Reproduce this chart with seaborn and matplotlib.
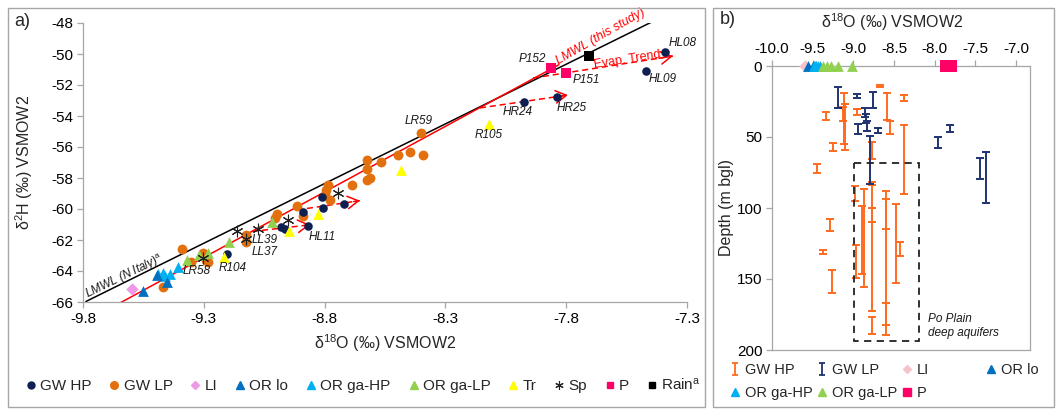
import numpy as np
import pandas as pd
import matplotlib
matplotlib.use("Agg")
import matplotlib.pyplot as plt
import seaborn as sns
from matplotlib.lines import Line2D
from matplotlib.patches import Rectangle
from matplotlib.path import Path

# ---------------- data: panel a (d18O, d2H) ----------------
gw_hp_x = [-7.391, -7.470, -7.973, -7.838, -8.812, -8.805, -8.718, -8.888, -8.980, -8.964, -8.870, -9.205]
gw_hp_y = [-49.89, -51.08, -53.12, -52.75, -59.25, -59.96, -59.70, -60.17, -61.18, -61.31, -61.12, -62.90]
gw_lp_x = [-8.401, -8.626, -8.567, -8.497, -8.446, -8.394, -8.623, -8.626, -8.612, -8.685, -8.785, -8.794,
           -8.798, -8.778, -8.916, -8.888, -8.995, -9.005, -9.125, -9.125, -9.302, -9.281, -9.290, -9.354,
           -9.392, -9.467]
gw_lp_y = [-55.12, -56.84, -56.95, -56.52, -56.30, -56.52, -57.44, -58.13, -58.02, -58.45, -58.42, -58.77,
           -59.10, -59.40, -59.83, -60.45, -60.34, -60.60, -61.68, -62.11, -62.82, -63.40, -63.30, -63.44,
           -62.58, -65.05]
li_x = [-9.599]
li_y = [-65.16]
or_lo_x = [-9.553, -9.454, -9.495]
or_lo_y = [-65.29, -64.69, -64.25]
or_gahp_x = [-9.488, -9.467, -9.440, -9.406, -9.460]
or_gahp_y = [-64.21, -64.15, -64.19, -63.76, -64.35]
or_galp_x = [-9.019, -9.194, -9.281, -9.319, -9.371]
or_galp_y = [-60.87, -62.11, -62.82, -62.97, -63.29]
tr_x = [-8.120, -8.485, -8.829, -8.946, -9.216]
tr_y = [-54.50, -57.48, -60.32, -61.40, -63.12]
sp_x = [-8.746, -8.950, -9.074, -9.161, -9.125, -9.305]
sp_y = [-58.99, -60.74, -61.28, -61.40, -61.96, -63.18]
p_x = [-7.863, -7.800]
p_y = [-50.88, -51.25]
rain_x = [-7.706]
rain_y = [-50.11]

# sample labels
lab_names = ["HL08", "HL09", "P152", "P151", "HR24", "HR25", "R105", "LR59", "HL11", "LL39", "LL37", "R104", "LR58"]
lab_x = [-7.317, -7.399, -7.942, -7.718, -8.000, -7.776, -8.120, -8.409, -8.811, -9.047, -9.047, -9.179, -9.328]
lab_y = [-49.29, -51.61, -50.32, -51.68, -53.74, -53.48, -55.23, -54.32, -61.81, -62.02, -62.80, -63.81, -64.00]

# meteoric water lines (slope, intercept, x-range)
lmwl_italy = (7.7, 9.4, -9.788, -7.444)
lmwl_study = (8.46, 15.55, -9.644, -7.83)

# evaporation trend arrows (start x, start y, end x, end y)
evap_arrows = [(-7.937, -51.55, -7.358, -50.13),
               (-8.157, -53.48, -7.793, -52.65),
               (-8.914, -60.06, -8.654, -59.46),
               (-9.100, -61.45, -8.860, -61.02)]

# ---------------- data: panel b (d18O vs screen depth) ----------------
b_hp_x = [-9.337, -9.112, -9.105, -9.125, -9.255, -9.450, -8.960, -8.675, -8.593, -8.552, -8.380, -8.377,
          -8.777, -8.770, -8.982, -8.969, -8.871, -8.899, -8.768, -8.768, -8.768, -8.605, -8.605, -8.605,
          -8.478, -8.430, -9.288, -9.377, -9.266]
b_hp_top = [32.6, 19.0, 27.0, 29.0, 54.4, 69.2, 30.3, 13.4, 19.2, 38.7, 20.4, 41.5,
            53.7, 81.5, 84.5, 126.0, 86.8, 98.6, 84.0, 100.2, 177.0, 88.0, 93.9, 167.0,
            97.2, 124.0, 108.0, 129.6, 144.0]
b_hp_bot = [38.0, 55.0, 59.0, 39.0, 59.6, 75.6, 34.5, 14.6, 38.0, 48.1, 24.4, 90.4,
            65.5, 84.0, 94.9, 149.5, 155.8, 146.5, 172.5, 109.6, 188.7, 189.4, 115.0, 182.4,
            153.0, 133.6, 116.0, 132.4, 160.0]
b_lp_x = [-9.186, -8.961, -8.765, -8.859, -8.847, -8.940, -8.830, -8.700, -8.790, -7.960, -7.816, -7.448, -7.366]
b_lp_top = [14.6, 20.0, 18.5, 29.8, 34.0, 41.0, 38.7, 43.4, 49.3, 49.8, 41.5, 64.6, 60.8]
b_lp_bot = [29.4, 22.7, 29.8, 35.7, 40.4, 48.0, 45.8, 47.4, 83.3, 57.5, 46.7, 79.6, 96.7]
deep_box = (-8.99, -8.196, 68.0, 193.7)

# ---------------- style ----------------
sns.set_theme(style="white")
plt.rcParams["font.family"] = ["Liberation Sans", "DejaVu Sans"]
plt.rcParams["mathtext.fontset"] = "custom"
plt.rcParams["mathtext.rm"] = "Liberation Sans"
plt.rcParams["mathtext.it"] = "Liberation Sans:italic"
plt.rcParams["mathtext.bf"] = "Liberation Sans:bold"
plt.rcParams["axes.unicode_minus"] = False

C_NAVY = "#0E1F52"
C_ORANGE = "#E2700F"
C_LI = "#EE99E6"
C_LI_B = "#F6C3CC"
C_ORLO = "#0070C0"
C_ORGAHP = "#00B0F0"
C_ORGALP = "#92D050"
C_TR = "#FFFF00"
C_P = "#FF0066"
C_RAIN = "#000000"
C_B_HP = "#FF6A1F"
C_B_LP = "#1F3370"
GREY = "#A6A6A6"

W, H = 1057, 409
fig = plt.figure(figsize=(W / 100, H / 100), dpi=100)
fig.patch.set_facecolor("white")

# panel borders
fig.patches.append(Rectangle((8 / W, 1 - 407 / H), (705 - 8) / W, (407 - 8) / H, transform=fig.transFigure,
                             fill=False, edgecolor=GREY, lw=1.0))
fig.patches.append(Rectangle((713 / W, 1 - 407 / H), (1054 - 713) / W, (407 - 8) / H, transform=fig.transFigure,
                             fill=False, edgecolor=GREY, lw=1.0))

# ---------------- panel a ----------------
ax = fig.add_axes([83 / W, 1 - 302 / H, 604 / W, 279 / H])
ax.set_xlim(-9.8, -7.3)
ax.set_ylim(-66, -48)

for (m, b, x0, x1), col in [(lmwl_italy, "black"), (lmwl_study, "red")]:
    xs = np.array([x0, x1])
    ax.plot(xs, m * xs + b, color=col, lw=1.1, zorder=2)

for (x0, y0, x1, y1) in evap_arrows:
    ax.plot([x0, x1], [y0, y1], color="red", lw=1.1, ls=(0, (4, 2.5)), zorder=2)
    ax.annotate("", xy=(x1, y1), xytext=(x1 - 0.1 * (x1 - x0), y1 - 0.1 * (y1 - y0)),
                arrowprops=dict(arrowstyle="->,head_length=0.55,head_width=0.32", color="red", lw=1.1,
                                shrinkA=0, shrinkB=0, mutation_scale=14), zorder=2)

series_a = [
    (gw_lp_x, gw_lp_y, "o", C_ORANGE, 50),
    (gw_hp_x, gw_hp_y, "o", C_NAVY, 38),
    (li_x, li_y, "D", C_LI, 40),
    (or_gahp_x, or_gahp_y, "^", C_ORGAHP, 60),
    (or_lo_x, or_lo_y, "^", C_ORLO, 60),
    (or_galp_x, or_galp_y, "^", C_ORGALP, 60),
    (tr_x, tr_y, "^", C_TR, 60),
    (p_x, p_y, "s", C_P, 60),
    (rain_x, rain_y, "s", C_RAIN, 60),
]
for xs, ys, mk, col, sz in series_a:
    sns.scatterplot(x=xs, y=ys, marker=mk, color=col, s=sz, linewidth=0, ax=ax, zorder=3, legend=False)
sns.scatterplot(x=sp_x, y=sp_y, marker=(6, 2, 0), color="#222222", s=60, linewidth=0.8, ax=ax, zorder=4,
                legend=False)

for name, x, y in zip(lab_names, lab_x, lab_y):
    ax.text(x, y, name, fontsize=8.5, style="italic", ha="center", va="center", color="#1a1a1a", zorder=5)

ax.text(-9.626, -64.39, "LMWL (N Italy)$^{\\mathrm{a}}$", fontsize=8.5, style="italic", rotation=26,
        ha="center", va="center", rotation_mode="anchor", color="#1a1a1a")
ax.text(-7.656, -48.90, "LMWL (this study)", fontsize=9, style="italic", rotation=30,
        ha="center", va="center", rotation_mode="anchor", color="red")
ax.text(-7.548, -50.39, "Evap. Trend", fontsize=9, rotation=9,
        ha="center", va="center", rotation_mode="anchor", color="red")

xt = np.arange(-9.8, -7.29, 0.5)
ax.set_xticks(xt)
ax.set_xticklabels([f"{v:.1f}" for v in xt])
yt = np.arange(-66, -47, 2)
ax.set_yticks(yt)
ax.set_yticklabels([f"{v:d}" for v in yt])
for s in ["top", "right"]:
    ax.spines[s].set_visible(False)
for s in ["left", "bottom"]:
    ax.spines[s].set_color(GREY)
    ax.spines[s].set_linewidth(0.9)
ax.tick_params(direction="out", length=4, width=0.9, color=GREY, labelsize=11, pad=3, labelcolor="black",
               bottom=True, left=True)
ax.set_xlabel("δ$^{18}$O (‰) VSMOW2", fontsize=11.5, va="center")
ax.xaxis.set_label_coords(0.5, -(343 - 302) / 279)
ax.set_ylabel("δ$^{2}$H (‰) VSMOW2", fontsize=11.5, va="center")
ax.yaxis.set_label_coords((24 - 83) / 604, 0.5)
ax.grid(False)

fig.text(22 / W, 1 - 22 / H, "a)", fontsize=13, ha="center", va="center")

# legend a
h_a = [
    Line2D([], [], ls="none", marker="o", color=C_NAVY, ms=5),
    Line2D([], [], ls="none", marker="o", color=C_ORANGE, ms=5.5),
    Line2D([], [], ls="none", marker="D", color=C_LI, ms=4.5),
    Line2D([], [], ls="none", marker="^", color=C_ORLO, ms=5.5),
    Line2D([], [], ls="none", marker="^", color=C_ORGAHP, ms=5.5),
    Line2D([], [], ls="none", marker="^", color=C_ORGALP, ms=5.5),
    Line2D([], [], ls="none", marker="^", color=C_TR, ms=5.5),
    Line2D([], [], ls="none", marker=(6, 2, 0), color="#222222", ms=6, mew=0.8),
    Line2D([], [], ls="none", marker="s", color=C_P, ms=5),
    Line2D([], [], ls="none", marker="s", color=C_RAIN, ms=5),
]
l_a = ["GW HP", "GW LP", "LI", "OR lo", "OR ga-HP", "OR ga-LP", "Tr", "Sp", "P", "Rain$^{\\mathrm{a}}$"]
fig.legend(h_a, l_a, loc="center left", bbox_to_anchor=(27 / W, 1 - 385 / H), ncol=10, frameon=False,
           handlelength=0.5, handletextpad=0.35, columnspacing=1.25, fontsize=11, borderaxespad=0, borderpad=0)

# ---------------- panel b ----------------
ax2 = fig.add_axes([772 / W, 1 - 350 / H, 258 / W, 284 / H])
ax2.set_xlim(-10.0, -6.83)
ax2.set_ylim(200, 0)

for xs, tops, bots, col in [(b_hp_x, b_hp_top, b_hp_bot, C_B_HP), (b_lp_x, b_lp_top, b_lp_bot, C_B_LP)]:
    tops = np.array(tops)
    bots = np.array(bots)
    mid = (tops + bots) / 2
    half = (bots - tops) / 2
    ax2.errorbar(xs, mid, yerr=half, fmt="none", ecolor=col, elinewidth=1.4, capsize=3.2, capthick=1.4,
                 zorder=3)

bx0, bx1, bd0, bd1 = deep_box
ax2.add_patch(Rectangle((bx0, bd0), bx1 - bx0, bd1 - bd0, fill=False, edgecolor="#222222", lw=1.3,
                        ls=(0, (4, 3)), zorder=4))
ax2.text(-8.08, 183, "Po Plain\ndeep aquifers", fontsize=8.5, style="italic", ha="left", va="center",
         linespacing=1.25, color="#1a1a1a")

series_b = [
    (li_x, "D", C_LI_B, 40),
    (or_lo_x, "^", C_ORLO, 60),
    (or_gahp_x, "^", C_ORGAHP, 60),
    (or_galp_x, "^", C_ORGALP, 60),
    (p_x, "s", C_P, 70),
]
for xs, mk, col, sz in series_b:
    sns.scatterplot(x=xs, y=np.zeros(len(xs)), marker=mk, color=col, s=sz, linewidth=0, ax=ax2,
                    zorder=5, clip_on=False, legend=False)

bt = np.arange(-10.0, -6.99, 0.5)
ax2.set_xticks(bt)
ax2.set_xticklabels([f"{v:.1f}" for v in bt])
ax2.set_yticks(np.arange(0, 201, 50))
ax2.xaxis.tick_top()
ax2.xaxis.set_label_position("top")
for s in ax2.spines.values():
    s.set_color(GREY)
    s.set_linewidth(0.9)
ax2.tick_params(direction="out", length=4, width=0.9, color=GREY, labelsize=11, pad=3, labelcolor="black",
                top=True, bottom=False, left=True, right=False)
ax2.set_xlabel("δ$^{18}$O (‰) VSMOW2", fontsize=11.5, va="center")
ax2.xaxis.set_label_coords((892 - 772) / 258, (350 - 22) / 284)
ax2.set_ylabel("Depth (m bgl)", fontsize=11.5, va="center")
ax2.yaxis.set_label_coords((727 - 772) / 258, 0.5)
ax2.grid(False)

fig.text(728 / W, 1 - 20 / H, "b)", fontsize=13, ha="center", va="center")

# legend b: capped-bar marker
ibar = Path([(-0.5, 1), (0.5, 1), (0, 1), (0, -1), (-0.5, -1), (0.5, -1)],
            [Path.MOVETO, Path.LINETO, Path.MOVETO, Path.LINETO, Path.MOVETO, Path.LINETO])
cols_b = [
    (735, [Line2D([], [], ls="none", marker=ibar, ms=8, mfc="none", mec=C_B_HP, mew=1.3),
           Line2D([], [], ls="none", marker="^", color=C_ORGAHP, ms=5.5)], ["GW HP", "OR ga-HP"]),
    (822, [Line2D([], [], ls="none", marker=ibar, ms=8, mfc="none", mec=C_B_LP, mew=1.3),
           Line2D([], [], ls="none", marker="^", color=C_ORGALP, ms=5.5)], ["GW LP", "OR ga-LP"]),
    (907, [Line2D([], [], ls="none", marker="D", color=C_LI_B, ms=4.5),
           Line2D([], [], ls="none", marker="s", color=C_P, ms=5.5)], ["LI", "P"]),
    (991, [Line2D([], [], ls="none", marker="^", color=C_ORLO, ms=5.5)], ["OR lo"]),
]
for xc, hs, ls_ in cols_b:
    fig.legend(hs, ls_, loc="upper left", bbox_to_anchor=((xc - 4) / W, 1 - 363 / H), ncol=1, frameon=False,
               handlelength=0.6, handletextpad=0.35, labelspacing=0.65, fontsize=10.5, borderaxespad=0,
               borderpad=0)

fig.savefig("out.png", dpi=100, facecolor="white")
